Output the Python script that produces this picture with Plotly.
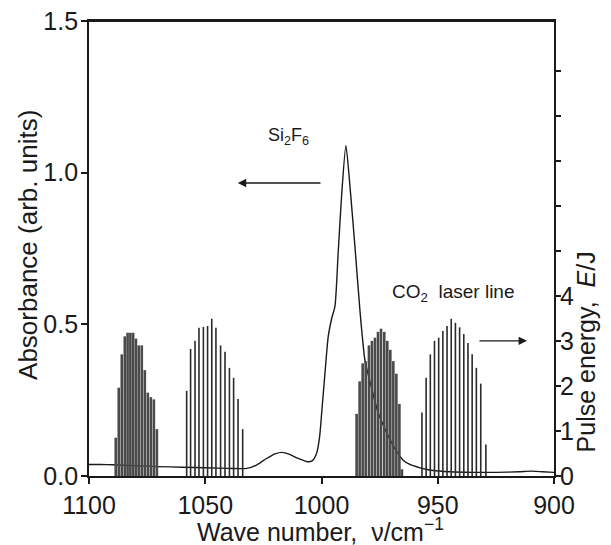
import plotly.graph_objects as go

# ---- data ----
abs_wn = [1100, 1095, 1090, 1080, 1070, 1060, 1050, 1040, 1032, 1028, 1024, 1020, 1017, 1014,
          1010, 1006, 1004, 1002.1, 1000.8, 999.9, 998.5, 997.1, 995.6, 994.2, 992.8, 991.3,
          989.5, 987.7, 985.6, 983.4, 981.3, 979.1, 975.7, 973, 970.5, 968, 965, 962, 957.6,
          952, 945, 935, 925, 915, 910, 905, 900]
abs_val = [0.038, 0.038, 0.037, 0.034, 0.031, 0.029, 0.027, 0.025, 0.025, 0.036, 0.056, 0.073,
           0.078, 0.072, 0.058, 0.047, 0.05, 0.075, 0.13, 0.21, 0.34, 0.46, 0.52, 0.56, 0.74,
           0.93, 1.09, 0.95, 0.755, 0.54, 0.38, 0.31, 0.21, 0.16, 0.12, 0.085, 0.053, 0.038,
           0.027, 0.018, 0.014, 0.012, 0.012, 0.014, 0.016, 0.014, 0.012]

laser_wn_9R = [1088.5, 1087.2, 1085.9, 1084.6, 1083.4, 1082.2, 1081.0, 1079.8, 1078.6, 1077.3,
               1076.0, 1074.7, 1073.4, 1072.1, 1070.8]
laser_E_9R = [0.85, 1.96, 2.7, 3.1, 3.18, 3.18, 3.18, 3.05, 2.9, 2.9, 2.35, 1.85, 1.75, 1.7, 1.04]

laser_wn_9P = [1058.0, 1056.3, 1054.4, 1052.7, 1050.8, 1049.0, 1047.2, 1045.4, 1043.4, 1041.5,
               1039.6, 1037.8, 1035.9, 1033.9]
laser_E_9P = [1.89, 2.82, 3.0, 3.29, 3.31, 3.33, 3.49, 3.29, 2.9, 2.76, 2.4, 2.18, 1.71, 1.04]

laser_wn_10R = [984.9, 983.6, 982.3, 981.0, 979.6, 978.3, 977.0, 975.7, 974.4, 973.0, 971.7,
                970.4, 969.1, 967.8, 966.5, 965.4]
laser_E_10R = [1.38, 2.1, 2.5, 2.55, 2.9, 3.0, 3.07, 3.2, 3.27, 3.2, 3.0, 2.8, 2.55, 2.27, 1.6, 0.15]

laser_wn_10P = [956.8, 955.0, 953.2, 951.4, 949.6, 947.8, 946.0, 944.2, 942.4, 940.6, 938.8,
                937.0, 935.2, 933.4, 931.5, 929.3]
laser_E_10P = [1.41, 2.18, 2.7, 3.0, 3.07, 3.22, 3.33, 3.49, 3.4, 3.3, 3.15, 2.95, 2.7, 2.4, 2.05, 0.7]

x_ticks = [1100, 1050, 1000, 950, 900]
y_ticks = [0, 0.5, 1.0, 1.5]
y_ticklabels = ["0.0", "0.5", "1.0", "1.5"]
y2_ticks = [0, 1, 2, 3, 4]
y2_ticklabels = ["0", "1", "2", "3", "4"]
y2_minor_ticks = [5, 6, 7, 8, 9]

FONT = "Liberation Sans, Arial, sans-serif"
INK = "#1a1a1a"

fig = go.Figure()

# laser lines (right axis)
def sticks(wns, es):
    xs, ys = [], []
    for w, e in zip(wns, es):
        xs += [w, w, None]
        ys += [0, e, None]
    return xs, ys

for wns, es, col, wd in [(laser_wn_9R, laser_E_9R, "#4a4a4a", 2.6),
                         (laser_wn_9P, laser_E_9P, "#2a2a2a", 1.6),
                         (laser_wn_10R, laser_E_10R, "#4a4a4a", 2.6),
                         (laser_wn_10P, laser_E_10P, "#2a2a2a", 1.6)]:
    xs, ys = sticks(wns, es)
    fig.add_trace(go.Scatter(x=xs, y=ys, mode="lines", yaxis="y2",
                             line=dict(color=col, width=wd), showlegend=False,
                             hoverinfo="skip"))

# absorbance spectrum
fig.add_trace(go.Scatter(x=abs_wn, y=abs_val, mode="lines",
                         line=dict(color=INK, width=1.4, shape="spline", smoothing=0.6),
                         showlegend=False))

axis_common = dict(ticks="outside", tickwidth=1.5, tickcolor=INK, showline=True,
                   linecolor=INK, linewidth=1.8, showgrid=False, zeroline=False,
                   automargin=False, ticklabeloverflow="allow",
                   tickfont=dict(size=25, family=FONT, color=INK))

fig.update_layout(
    width=603, height=537,
    margin=dict(l=81, r=57, t=13, b=69, autoexpand=False),
    paper_bgcolor="white", plot_bgcolor="white",
    font=dict(family=FONT, color=INK),
    xaxis=dict(range=[1100, 900], tickvals=x_ticks, ticklen=6, mirror=True, **axis_common),
    yaxis=dict(range=[0, 1.5], tickvals=y_ticks, ticktext=y_ticklabels, ticklen=6,
               ticklabelstandoff=-2, **axis_common),
    yaxis2=dict(range=[0, 10.1], tickvals=y2_ticks, ticktext=y2_ticklabels, overlaying="y",
                side="right", ticklen=5,
                minor=dict(tickvals=y2_minor_ticks, ticks="outside", ticklen=5,
                           tickwidth=1.5, tickcolor=INK),
                ticklabelstandoff=-6, **axis_common),
)

# top frame line
fig.add_shape(type="line", xref="paper", yref="paper", x0=0, x1=1, y0=1, y1=1,
              line=dict(color=INK, width=1.8))

# axis titles
fig.add_annotation(text="Absorbance (arb. units)", xref="paper", yref="paper",
                   x=-0.131, y=0.508, xanchor="center", yanchor="middle", textangle=-90,
                   showarrow=False, font=dict(size=26, family=FONT, color=INK))
fig.add_annotation(text="Pulse energy,  <i>E</i>/J", xref="paper", yref="paper",
                   x=1.068, y=0.273, xanchor="center", yanchor="middle", textangle=-90,
                   showarrow=False, font=dict(size=25, family=FONT, color=INK))
fig.add_annotation(text="Wave number,  ν/cm<sup>−1</sup>", xref="paper", yref="paper",
                   x=0.497, y=-0.118, xanchor="center", yanchor="middle", showarrow=False,
                   font=dict(size=25, family=FONT, color=INK))

# labels in plot
fig.add_annotation(text="Si<sub>2</sub>F<sub>6</sub>", x=1004.5, y=1.12, xref="x", yref="y",
                   xanchor="right", yanchor="middle", showarrow=False,
                   font=dict(size=18, family=FONT, color=INK))
fig.add_annotation(x=1036, y=0.966, ax=999.8, ay=0.966, xref="x", yref="y", axref="x", ayref="y",
                   text="", showarrow=True, arrowhead=2, arrowsize=1.2, arrowwidth=1.4,
                   arrowcolor=INK)
fig.add_annotation(text="CO<sub>2</sub>  laser line", x=970.5, y=4.07, xref="x", yref="y2",
                   xanchor="left", yanchor="middle", showarrow=False,
                   font=dict(size=19, family=FONT, color=INK))
fig.add_annotation(x=911.6, y=3.0, ax=932.7, ay=3.0, xref="x", yref="y2", axref="x", ayref="y2",
                   text="", showarrow=True, arrowhead=2, arrowsize=1.2, arrowwidth=1.4,
                   arrowcolor=INK)

fig.write_html("out.html")
